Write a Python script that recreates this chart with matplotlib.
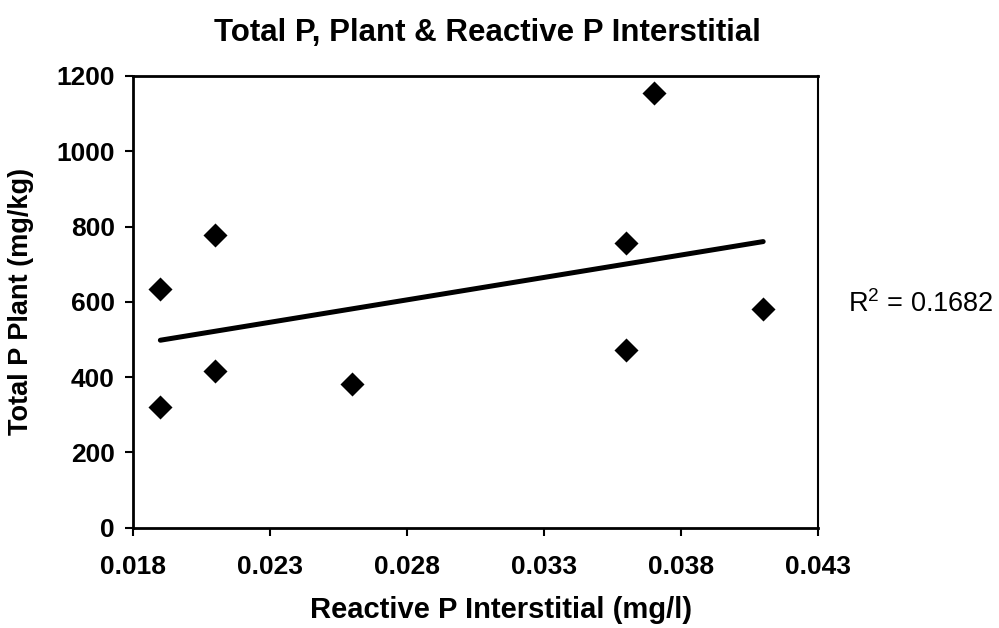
import numpy as np
import matplotlib
matplotlib.use("Agg")
import matplotlib.pyplot as plt

plt.rcParams['font.family'] = ['Liberation Sans', 'DejaVu Sans']
plt.rcParams['mathtext.fontset'] = 'custom'
plt.rcParams['mathtext.rm'] = 'Liberation Sans'

# Reactive P in interstitial water (mg/l) and total P in plant tissue (mg/kg)
reactive_p = [0.019, 0.019, 0.021, 0.021, 0.026, 0.036, 0.036, 0.037, 0.041]
total_p = [633, 321, 778, 417, 381, 756, 472, 1156, 581]

x_ticks = [0.018, 0.023, 0.028, 0.033, 0.038, 0.043]
x_tick_labels = ["0.018", "0.023", "0.028", "0.033", "0.038", "0.043"]
y_ticks = [0, 200, 400, 600, 800, 1000, 1200]
r_squared_text = r"R$^\mathrm{2}$ = 0.1682"

fig = plt.figure(figsize=(9.99, 6.28), dpi=100)
ax = fig.add_axes([0.1331, 0.1597, 0.8188 - 0.1331, 0.879 - 0.1597])

ax.scatter(reactive_p, total_p, marker='D', s=150, color='black', zorder=3,
           linewidths=0)

# Linear trendline over the data range
slope, intercept = np.polyfit(reactive_p, total_p, 1)
xs = np.array([min(reactive_p), max(reactive_p)])
ax.plot(xs, slope * xs + intercept, color='black', lw=3.6,
        solid_capstyle='round', zorder=2)

ax.set_xlim(0.018, 0.043)
ax.set_ylim(0, 1200)
ax.set_xticks(x_ticks)
ax.set_xticklabels(x_tick_labels)
ax.set_yticks(y_ticks)

for s in ax.spines.values():
    s.set_linewidth(2.0)
    s.set_color('black')
ax.spines['right'].set_linewidth(1.5)

ax.tick_params(axis='both', direction='out', length=6, width=1.5,
               labelsize=19, colors='black')
ax.tick_params(axis='x', pad=14)
ax.tick_params(axis='y', pad=7)
for lbl in ax.get_xticklabels() + ax.get_yticklabels():
    lbl.set_fontweight('bold')

fig.text(0.488, 0.948, "Total P, Plant & Reactive P Interstitial",
         ha='center', va='center', fontsize=22.5, fontweight='bold')
fig.text(0.502, 0.028, "Reactive P Interstitial (mg/l)",
         ha='center', va='center', fontsize=21, fontweight='bold')
fig.text(0.021, 0.52, "Total P Plant (mg/kg)", rotation=90,
         ha='center', va='center', fontsize=19.5, fontweight='bold')
fig.text(0.849, 0.516, r_squared_text, ha='left', va='center', fontsize=19.5)

fig.savefig("out.png", dpi=100)
